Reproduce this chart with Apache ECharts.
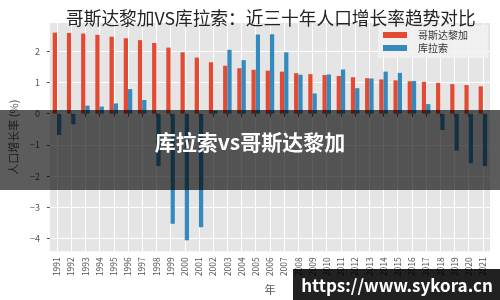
<!DOCTYPE html>
<html>
<head>
<meta charset="utf-8">
<script src="https://cdn.jsdelivr.net/npm/echarts@6/dist/echarts.min.js"></script>
<style>html,body{margin:0;padding:0;background:#fff}#c{width:500px;height:300px}</style>
</head>
<body>
<div id="c"></div>
<script>
const years = ['1991','1992','1993','1994','1995','1996','1997','1998','1999','2000','2001','2002','2003','2004','2005','2006','2007','2008','2009','2010','2011','2012','2013','2014','2015','2016','2017','2018','2019','2020','2021'];
const costaRica = [2.60,2.59,2.57,2.53,2.47,2.42,2.36,2.27,2.12,1.97,1.80,1.65,1.54,1.46,1.41,1.38,1.35,1.30,1.27,1.24,1.21,1.17,1.14,1.10,1.07,1.04,1.02,0.99,0.95,0.92,0.88];
const curacao = [-0.68,-0.34,0.26,0.23,0.33,0.79,0.44,-1.68,-3.53,-4.06,-3.64,0.10,2.05,1.72,2.54,2.55,1.97,1.25,0.65,1.26,1.42,0.82,1.13,1.35,1.31,1.05,0.31,-0.52,-1.18,-1.59,-1.68];
const yTicks = [-4,-3,-2,-1,0,1,2];
const seriesNames = ['哥斯达黎加','库拉索'];
const titleText = '哥斯达黎加VS库拉索：近三十年人口增长率趋势对比';
const bannerText = '库拉索vs哥斯达黎加';
const watermarkText = 'https://www.sykora.cn';

const FONT = '"Noto Sans CJK SC", "Noto Sans", sans-serif';
const chart = echarts.init(document.getElementById('c'), null, {renderer: 'canvas'});
chart.setOption({
  animation: false,
  textStyle: {fontFamily: FONT},
  title: {
    text: titleText, left: 61, top: 4,
    textStyle: {fontSize: 17.7, fontWeight: 'normal', color: '#222', fontFamily: FONT}
  },
  legend: {
    orient: 'vertical', left: 378, top: 25,
    padding: [4, 20, 4, 5], itemGap: 1,
    backgroundColor: 'rgba(242,242,242,0.85)',
    itemWidth: 24, itemHeight: 6, icon: 'rect',
    textStyle: {fontSize: 10, color: '#333', lineHeight: 12, padding: [0, 0, 0, 6]},
    data: seriesNames
  },
  grid: {left: 49, right: 10, top: 23, bottom: 44, show: true, backgroundColor: '#e5e5e5', borderWidth: 0},
  xAxis: {
    type: 'category', data: years, boundaryGap: true,
    name: '年', nameLocation: 'middle', nameGap: 31,
    nameTextStyle: {fontSize: 11, color: '#555'},
    axisLine: {show: false},
    axisTick: {show: true, alignWithLabel: true, length: 3, lineStyle: {color: '#555'}},
    axisLabel: {rotate: 90, fontSize: 8.5, color: '#555', margin: 6, interval: 0},
    splitLine: {show: true, alignWithLabel: true, lineStyle: {color: '#fff', width: 1}}
  },
  yAxis: {
    type: 'value', min: -4.41, max: 2.91,
    name: '人口增长率 (%)', nameLocation: 'middle', nameGap: 28, nameRotate: 90,
    nameTextStyle: {fontSize: 11, color: '#555'},
    axisLine: {show: false},
    axisTick: {show: true, length: 3, customValues: yTicks, lineStyle: {color: '#555'}},
    axisLabel: {fontSize: 9, color: '#555', margin: 10, customValues: yTicks,
      formatter: v => String(v).replace('-', '\u2212')},
    splitLine: {show: true, lineStyle: {color: '#fff', width: 1}}
  },
  series: [
    {name: seriesNames[0], type: 'bar', data: costaRica, barWidth: '30%', barGap: '0%', itemStyle: {color: '#E24A33'}},
    {name: seriesNames[1], type: 'bar', data: curacao, barWidth: '30%', barGap: '0%', itemStyle: {color: '#348ABD'}}
  ],
  graphic: [
    {type: 'rect', z: 100, shape: {x: 0, y: 110, width: 500, height: 80}, style: {fill: 'rgba(0,0,0,0.64)'}},
    {type: 'text', z: 101, x: 250, y: 142, style: {text: bannerText, fill: '#fff', font: 'bold 21px ' + FONT, textAlign: 'center', textVerticalAlign: 'middle'}},
    {type: 'rect', z: 100, shape: {x: 293, y: 269, width: 207, height: 31}, style: {fill: 'rgba(0,0,0,0.87)'}},
    {type: 'text', z: 101, x: 397, y: 286, style: {text: watermarkText, fill: '#fff', font: 'bold 17px ' + FONT, textAlign: 'center', textVerticalAlign: 'middle'}}
  ]
});
</script>
</body>
</html>
